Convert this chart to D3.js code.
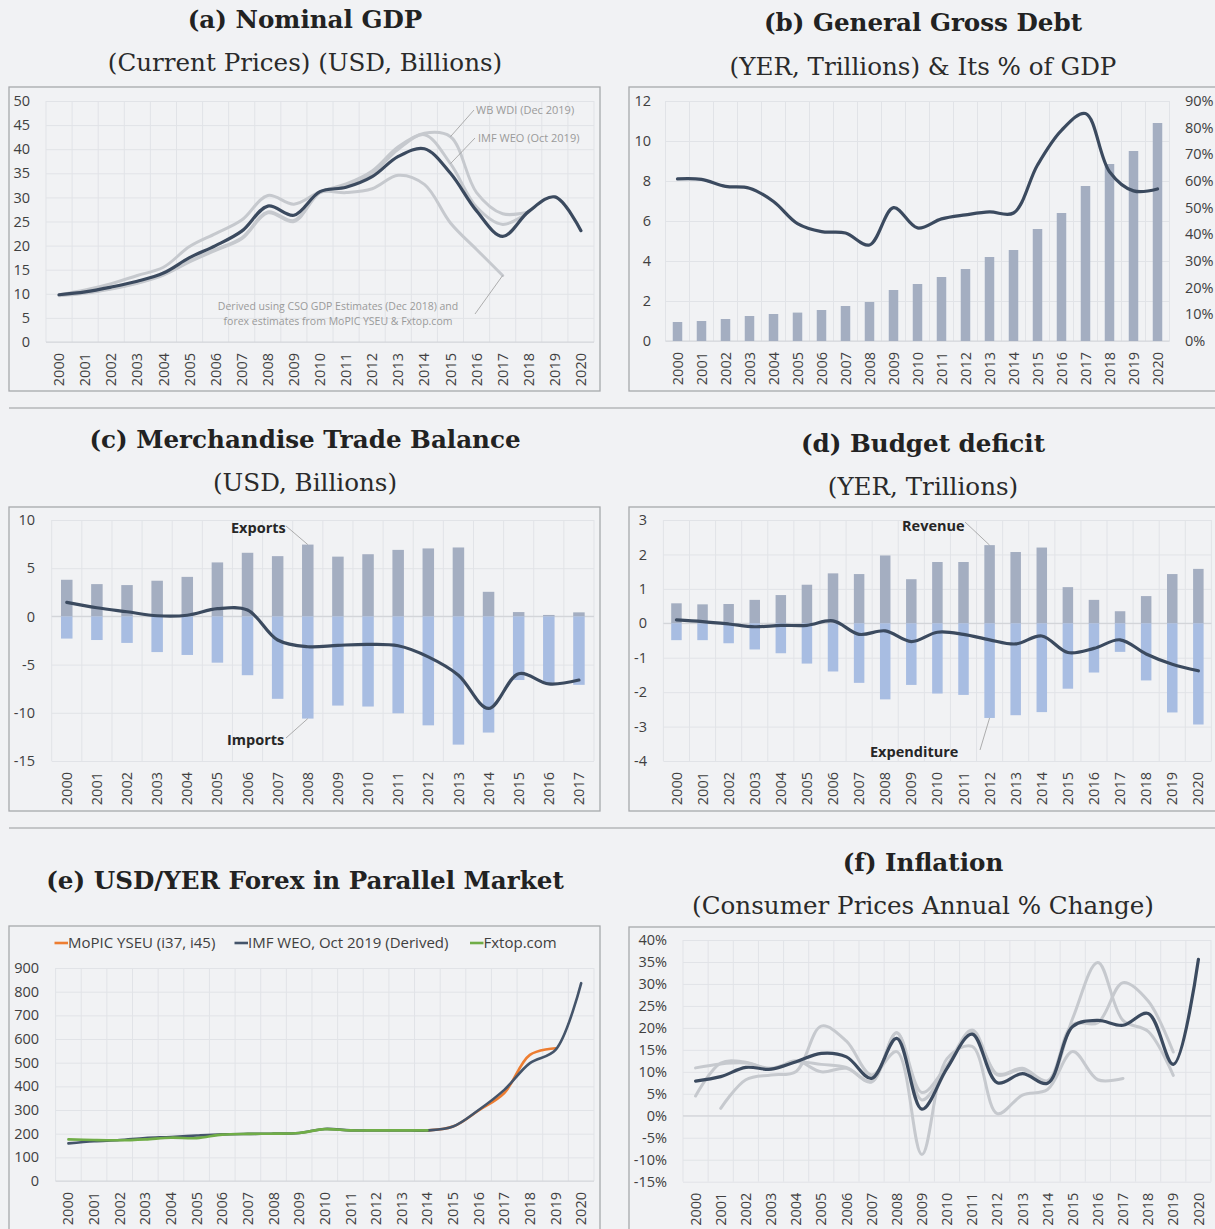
<!DOCTYPE html>
<html>
<head>
<meta charset="utf-8">
<script src="https://cdn.jsdelivr.net/npm/d3@7"></script>
<style>
  body { margin: 0; background: #f1f2f4; }
  svg { display: block; }
</style>
</head>
<body>
<svg id="chart" width="1215" height="1229"></svg>
<script>
// categories
const years = ['2000', '2001', '2002', '2003', '2004', '2005', '2006', '2007', '2008', '2009', '2010',
  '2011', '2012', '2013', '2014', '2015', '2016', '2017', '2018', '2019', '2020'];
const tradeYears = years.slice(0, 18);

// (a) nominal GDP, USD bn
const gdpMain = [9.8, 10.4, 11.4, 12.6, 14.3, 17.5, 20.0, 23.0, 28.2, 26.3, 31.2, 32.1, 34.3, 38.5, 40.1, 35.0, 27.2, 21.9, 27.1, 30.1, 23.1];
const gdpWbWdi = [9.8, 10.8, 12.1, 13.8, 15.5, 19.8, 22.5, 25.3, 30.4, 28.6, 31.2, 32.8, 35.5, 40.5, 43.3, 42.6, 31.0, 26.6, 27.0, null, null];
const gdpImfWeo = [9.6, 10.1, 11.0, 12.2, 13.9, 16.6, 19.0, 21.4, 26.8, 25.0, 31.0, 32.5, 35.0, 40.0, 43.0, 37.0, 28.0, 24.4, 27.0, null, null];
const gdpCso = [9.7, 10.2, 11.1, 12.3, 14.0, 16.8, 19.2, 21.6, 27.0, 25.2, 31.0, 31.0, 31.8, 34.6, 32.7, 24.7, 19.2, 13.8, null, null, null];
const gdpTicks = [0, 5, 10, 15, 20, 25, 30, 35, 40, 45, 50];

// (b) general gross debt
const debtYer = [0.95, 1.0, 1.1, 1.25, 1.35, 1.42, 1.55, 1.75, 1.95, 2.55, 2.85, 3.2, 3.6, 4.2, 4.55, 5.6, 6.4, 7.75, 8.85, 9.5, 10.9];
const debtPctGdp = [60.8, 60.6, 58.0, 57.3, 52.3, 44.0, 41.0, 40.5, 36.0, 50.0, 42.4, 45.8, 47.3, 48.4, 48.0, 66.0, 79.0, 85.3, 63.5, 56.3, 57.0];
const debtTicks = [0, 2, 4, 6, 8, 10, 12];
const pctTicks = [0, 10, 20, 30, 40, 50, 60, 70, 80, 90];

// (c) merchandise trade
const exportsUsd = [3.8, 3.35, 3.25, 3.7, 4.1, 5.6, 6.6, 6.25, 7.45, 6.2, 6.45, 6.9, 7.05, 7.15, 2.55, 0.45, 0.15, 0.42];
const importsUsd = [-2.3, -2.45, -2.75, -3.7, -4.0, -4.8, -6.1, -8.55, -10.6, -9.25, -9.35, -10.05, -11.3, -13.3, -12.05, -6.6, -6.9, -7.1];
const tradeBalance = [1.45, 0.9, 0.48, 0.07, 0.12, 0.8, 0.66, -2.45, -3.15, -3.0, -2.9, -3.05, -4.2, -6.1, -9.55, -5.95, -7.0, -6.6];
const tradeTicks = [-15, -10, -5, 0, 5, 10];

// (d) budget
const revenue = [0.58, 0.55, 0.56, 0.68, 0.82, 1.12, 1.45, 1.43, 1.97, 1.28, 1.78, 1.78, 2.27, 2.07, 2.2, 1.05, 0.68, 0.35, 0.79, 1.43, 1.58];
const expenditure = [-0.49, -0.49, -0.58, -0.76, -0.87, -1.17, -1.4, -1.73, -2.21, -1.79, -2.04, -2.08, -2.75, -2.67, -2.58, -1.9, -1.43, -0.83, -1.66, -2.59, -2.94];
const budgetBalance = [0.1, 0.05, -0.02, -0.1, -0.06, -0.06, 0.07, -0.32, -0.22, -0.53, -0.26, -0.32, -0.48, -0.6, -0.37, -0.85, -0.73, -0.48, -0.89, -1.19, -1.38];
const budgetTicks = [-4, -3, -2, -1, 0, 1, 2, 3];

// (e) parallel market forex
const fxMopic = [null, null, null, null, null, null, null, null, null, null, null, null, null, null, 214, 230, 298, 372, 533, 561, null];
const fxImf = [159, 168, 173, 182, 186, 192, 197, 199, 200, 203, 220, 214, 214, 214, 214, 230, 300, 385, 498, 554, 836];
const fxFxtop = [176, 173, 172, 176, 183, 181, 196, 199, 200, 203, 219, 214, 214, 214, 214, null, null, null, null, null, null];
const fxTicks = [0, 100, 200, 300, 400, 500, 600, 700, 800, 900];
const fxSeries = ['MoPIC YSEU (i37, i45)', 'IMF WEO, Oct 2019 (Derived)', 'Fxtop.com'];

// (f) inflation, %
const inflMain = [7.9, 8.9, 11.0, 10.6, 12.3, 14.2, 13.4, 8.5, 17.6, 1.5, 10.8, 18.6, 7.5, 9.6, 7.4, 20.3, 21.7, 20.6, 23.3, 11.7, 35.6];
const inflAltA = [10.9, 11.8, 12.0, 10.8, 12.3, 11.7, 11.0, 7.8, 18.9, 5.3, 11.5, 19.5, 9.5, 10.8, 8.0, 20.8, 21.2, 30.3, 26.1, 14.5, null];
const inflAltB = [4.5, 12.0, 12.2, 10.6, 12.5, 10.0, 10.8, 7.7, 18.9, 3.6, 11.0, 19.0, 9.3, 10.5, 7.6, 22.2, 34.9, 21.7, 19.2, 9.2, null];
const inflAltC = [null, 1.7, 8.2, 9.3, 10.1, 20.4, 17.0, 9.3, 14.6, -8.8, 13.0, 15.8, 0.5, 4.7, 6.0, 14.6, 8.2, 8.5, null, null, null];
const inflTicks = [-15, -10, -5, 0, 5, 10, 15, 20, 25, 30, 35, 40];

const svg = d3.select('#chart');
const sans = "'Open Sans', sans-serif";
const serif = "'DejaVu Serif', serif";
const navy = '#3b4a5f';
const lightLine = '#c6c9ce';
const barGray = '#a4aec1';
const barBlue = '#a8bde2';
const gridColor = '#e1e3e7';
const tickSize = 14.5;

const title = (cx, y1, t1, y2, t2) => {
  svg.append('text').attr('x', cx).attr('y', y1).attr('text-anchor', 'middle')
    .attr('font-family', serif).attr('font-weight', 'bold').attr('font-size', 24.6)
    .attr('fill', '#222').text(t1);
  if (t2) {
    svg.append('text').attr('x', cx).attr('y', y2).attr('text-anchor', 'middle')
      .attr('font-family', serif).attr('font-size', 24.6).attr('fill', '#2a2a2a').text(t2);
  }
};

const frame = ({ box, left, right, top, bottom, cats, domain, ticks, fmt, labelRight }) => {
  svg.append('rect')
    .attr('x', box[0]).attr('y', box[1]).attr('width', box[2]).attr('height', box[3])
    .attr('fill', 'none').attr('stroke', '#a7a9ac').attr('stroke-width', 1.3);

  const x = d3.scaleBand().domain(cats).range([left, right]);
  const y = d3.scaleLinear().domain(domain).range([bottom, top]);

  svg.append('g')
    .attr('transform', `translate(${left},0)`)
    .call(d3.axisLeft(y).tickValues(ticks).tickSize(-(right - left)).tickFormat(''))
    .call((g) => g.select('.domain').remove())
    .selectAll('line').attr('stroke', gridColor);

  svg.append('g').selectAll('line')
    .data(cats.map((c) => x(c)).concat([right]))
    .join('line')
    .attr('x1', (d) => d).attr('x2', (d) => d)
    .attr('y1', top).attr('y2', bottom)
    .attr('stroke', gridColor);

  svg.append('line')
    .attr('x1', left).attr('x2', right).attr('y1', y(0)).attr('y2', y(0))
    .attr('stroke', '#d3d5d9').attr('stroke-width', 1.2);

  svg.append('g')
    .attr('transform', `translate(${left},0)`)
    .call(d3.axisLeft(y).tickValues(ticks).tickSize(0).tickPadding(left - labelRight).tickFormat(fmt))
    .call((g) => g.select('.domain').remove())
    .selectAll('text')
    .attr('font-family', sans).attr('font-size', tickSize).attr('fill', '#404040');

  svg.append('g')
    .attr('transform', `translate(0,${bottom})`)
    .call(d3.axisBottom(x).tickSize(0))
    .call((g) => g.select('.domain').remove())
    .selectAll('text')
    .attr('transform', 'rotate(-90)')
    .attr('text-anchor', 'end')
    .attr('x', -11).attr('y', 0).attr('dy', '0.35em')
    .attr('font-family', sans).attr('font-size', tickSize).attr('fill', '#404040');

  return { x, y };
};

const smooth = (x, y, cats) => d3.line()
  .defined((d) => d !== null)
  .x((d, i) => x(cats[i]) + x.bandwidth() / 2)
  .y((d) => y(d))
  .curve(d3.curveCatmullRom.alpha(0.5));

const drawLine = (vals, gen, color, width) => {
  svg.append('path')
    .datum(vals)
    .attr('d', gen)
    .attr('fill', 'none')
    .attr('stroke', color)
    .attr('stroke-width', width)
    .attr('stroke-linecap', 'round')
    .attr('stroke-linejoin', 'round');
};

const drawBars = (vals, x, y, cats, color, w) => {
  svg.append('g').selectAll('rect')
    .data(vals)
    .join('rect')
    .attr('x', (d, i) => x(cats[i]) + (x.bandwidth() - w) / 2)
    .attr('y', (d) => y(Math.max(0, d)))
    .attr('width', w)
    .attr('height', (d) => Math.abs(y(d) - y(0)))
    .attr('fill', color);
};

const leader = (x1, y1, x2, y2) => {
  svg.append('line')
    .attr('x1', x1).attr('y1', y1).attr('x2', x2).attr('y2', y2)
    .attr('stroke', '#9a9a9a').attr('stroke-width', 0.8);
};

const note = (x, y, t, opts = {}) => {
  svg.append('text').attr('x', x).attr('y', y)
    .attr('text-anchor', opts.anchor || 'start')
    .attr('font-family', sans)
    .attr('font-size', opts.size || 11)
    .attr('font-weight', opts.bold ? 'bold' : 'normal')
    .attr('fill', opts.color || '#9a9a9a')
    .text(t);
};

// separators between rows
[408, 828].forEach((yy) => {
  svg.append('line').attr('x1', 9).attr('x2', 1215).attr('y1', yy).attr('y2', yy)
    .attr('stroke', '#b5b7ba').attr('stroke-width', 1.3);
});

// ---- (a) Nominal GDP
title(305, 28, '(a) Nominal GDP', 71, '(Current Prices) (USD, Billions)');
const pa = frame({
  box: [9, 87, 591, 304], left: 46, right: 594, top: 101, bottom: 342,
  cats: years, domain: [0, 50], ticks: gdpTicks, fmt: (d) => d, labelRight: 30,
});
const lineA = smooth(pa.x, pa.y, years);
drawLine(gdpCso, lineA, lightLine, 3);
drawLine(gdpImfWeo, lineA, lightLine, 3);
drawLine(gdpWbWdi, lineA, lightLine, 3);
drawLine(gdpMain, lineA, navy, 3.2);
const midA = (c) => pa.x(c) + pa.x.bandwidth() / 2;
leader(474, 110, midA('2015'), pa.y(gdpWbWdi[15]));
note(476, 114, 'WB WDI (Dec 2019)');
leader(475, 138, midA('2015'), pa.y(gdpImfWeo[15]));
note(478, 142, 'IMF WEO (Oct 2019)');
leader(475, 314, midA('2017'), pa.y(gdpCso[17]));
note(338, 310, 'Derived using CSO GDP Estimates (Dec 2018) and', { anchor: 'middle', size: 10.5 });
note(338, 325, 'forex estimates from MoPIC YSEU & Fxtop.com', { anchor: 'middle', size: 10.5 });

// ---- (b) General Gross Debt
title(923, 31, '(b) General Gross Debt', 75, '(YER, Trillions) & Its % of GDP');
const pb = frame({
  box: [629, 87, 600, 304], left: 665.5, right: 1169.5, top: 101, bottom: 341,
  cats: years, domain: [0, 12], ticks: debtTicks, fmt: (d) => d, labelRight: 651,
});
const yPct = d3.scaleLinear().domain([0, 90]).range([341, 101]);
svg.append('g')
  .attr('transform', 'translate(1169.5,0)')
  .call(d3.axisRight(yPct).tickValues(pctTicks).tickSize(0).tickPadding(15.5).tickFormat((d) => `${d}%`))
  .call((g) => g.select('.domain').remove())
  .selectAll('text')
  .attr('font-family', sans).attr('font-size', tickSize).attr('fill', '#404040');
drawBars(debtYer, pb.x, pb.y, years, barGray, 9.5);
drawLine(debtPctGdp, smooth(pb.x, yPct, years), navy, 3.2);

// ---- (c) Merchandise Trade Balance
title(305, 448, '(c) Merchandise Trade Balance', 491, '(USD, Billions)');
const pc = frame({
  box: [9, 507, 591, 304], left: 51.7, right: 594, top: 520, bottom: 761,
  cats: tradeYears, domain: [-15, 10], ticks: tradeTicks, fmt: (d) => d, labelRight: 35,
});
drawBars(exportsUsd, pc.x, pc.y, tradeYears, barGray, 11.5);
drawBars(importsUsd, pc.x, pc.y, tradeYears, barBlue, 11.5);
drawLine(tradeBalance, smooth(pc.x, pc.y, tradeYears), navy, 3.2);
const midC = (c) => pc.x(c) + pc.x.bandwidth() / 2;
leader(286, 526, midC('2008'), pc.y(exportsUsd[8]));
note(231, 533, 'Exports', { size: 14.5, bold: true, color: '#262626' });
leader(286, 738, midC('2008'), pc.y(importsUsd[8]));
note(227, 745, 'Imports', { size: 14.5, bold: true, color: '#262626' });

// ---- (d) Budget deficit
title(923, 452, '(d) Budget deficit', 495, '(YER, Trillions)');
const pd = frame({
  box: [629, 507, 600, 304], left: 663.4, right: 1211.4, top: 520, bottom: 761,
  cats: years, domain: [-4, 3], ticks: budgetTicks, fmt: (d) => d, labelRight: 647,
});
drawBars(revenue, pd.x, pd.y, years, barGray, 10.5);
drawBars(expenditure, pd.x, pd.y, years, barBlue, 10.5);
drawLine(budgetBalance, smooth(pd.x, pd.y, years), navy, 3.2);
const midD = (c) => pd.x(c) + pd.x.bandwidth() / 2;
leader(965, 522, midD('2012'), pd.y(revenue[12]));
note(902, 531, 'Revenue', { size: 14.5, bold: true, color: '#262626' });
leader(980, 750, midD('2012'), pd.y(expenditure[12]));
note(870, 757, 'Expenditure', { size: 14.5, bold: true, color: '#262626' });

// ---- (e) USD/YER Forex in Parallel Market
title(305, 889, '(e) USD/YER Forex in Parallel Market');
const pe = frame({
  box: [9, 926, 591, 320], left: 55.6, right: 594, top: 968, bottom: 1181,
  cats: years, domain: [0, 900], ticks: fxTicks, fmt: (d) => d, labelRight: 39,
});
const lineE = smooth(pe.x, pe.y, years);
const fxColors = ['#ed7d31', '#44546a', '#70ad47'];
drawLine(fxMopic, lineE, fxColors[0], 2.6);
drawLine(fxImf, lineE, fxColors[1], 2.6);
drawLine(fxFxtop, lineE, fxColors[2], 2.6);

const legendX = [54.5, 234.5, 470];
fxSeries.forEach((name, i) => {
  svg.append('line')
    .attr('x1', legendX[i]).attr('x2', legendX[i] + 13.5)
    .attr('y1', 943).attr('y2', 943)
    .attr('stroke', fxColors[i]).attr('stroke-width', 2.6);
  svg.append('text')
    .attr('x', legendX[i] + 13.5).attr('y', 948)
    .attr('font-family', sans).attr('font-size', 15).attr('fill', '#404040')
    .text(name);
});

// ---- (f) Inflation
title(923, 871, '(f) Inflation', 914, '(Consumer Prices Annual % Change)');
const pf = frame({
  box: [629, 927, 600, 320], left: 683, right: 1211, top: 940, bottom: 1181.7,
  cats: years, domain: [-15, 40], ticks: inflTicks, fmt: (d) => `${d}%`, labelRight: 667,
});
const lineF = smooth(pf.x, pf.y, years);
drawLine(inflAltC, lineF, lightLine, 3);
drawLine(inflAltB, lineF, lightLine, 3);
drawLine(inflAltA, lineF, lightLine, 3);
drawLine(inflMain, lineF, navy, 3.2);
</script>
</body>
</html>
